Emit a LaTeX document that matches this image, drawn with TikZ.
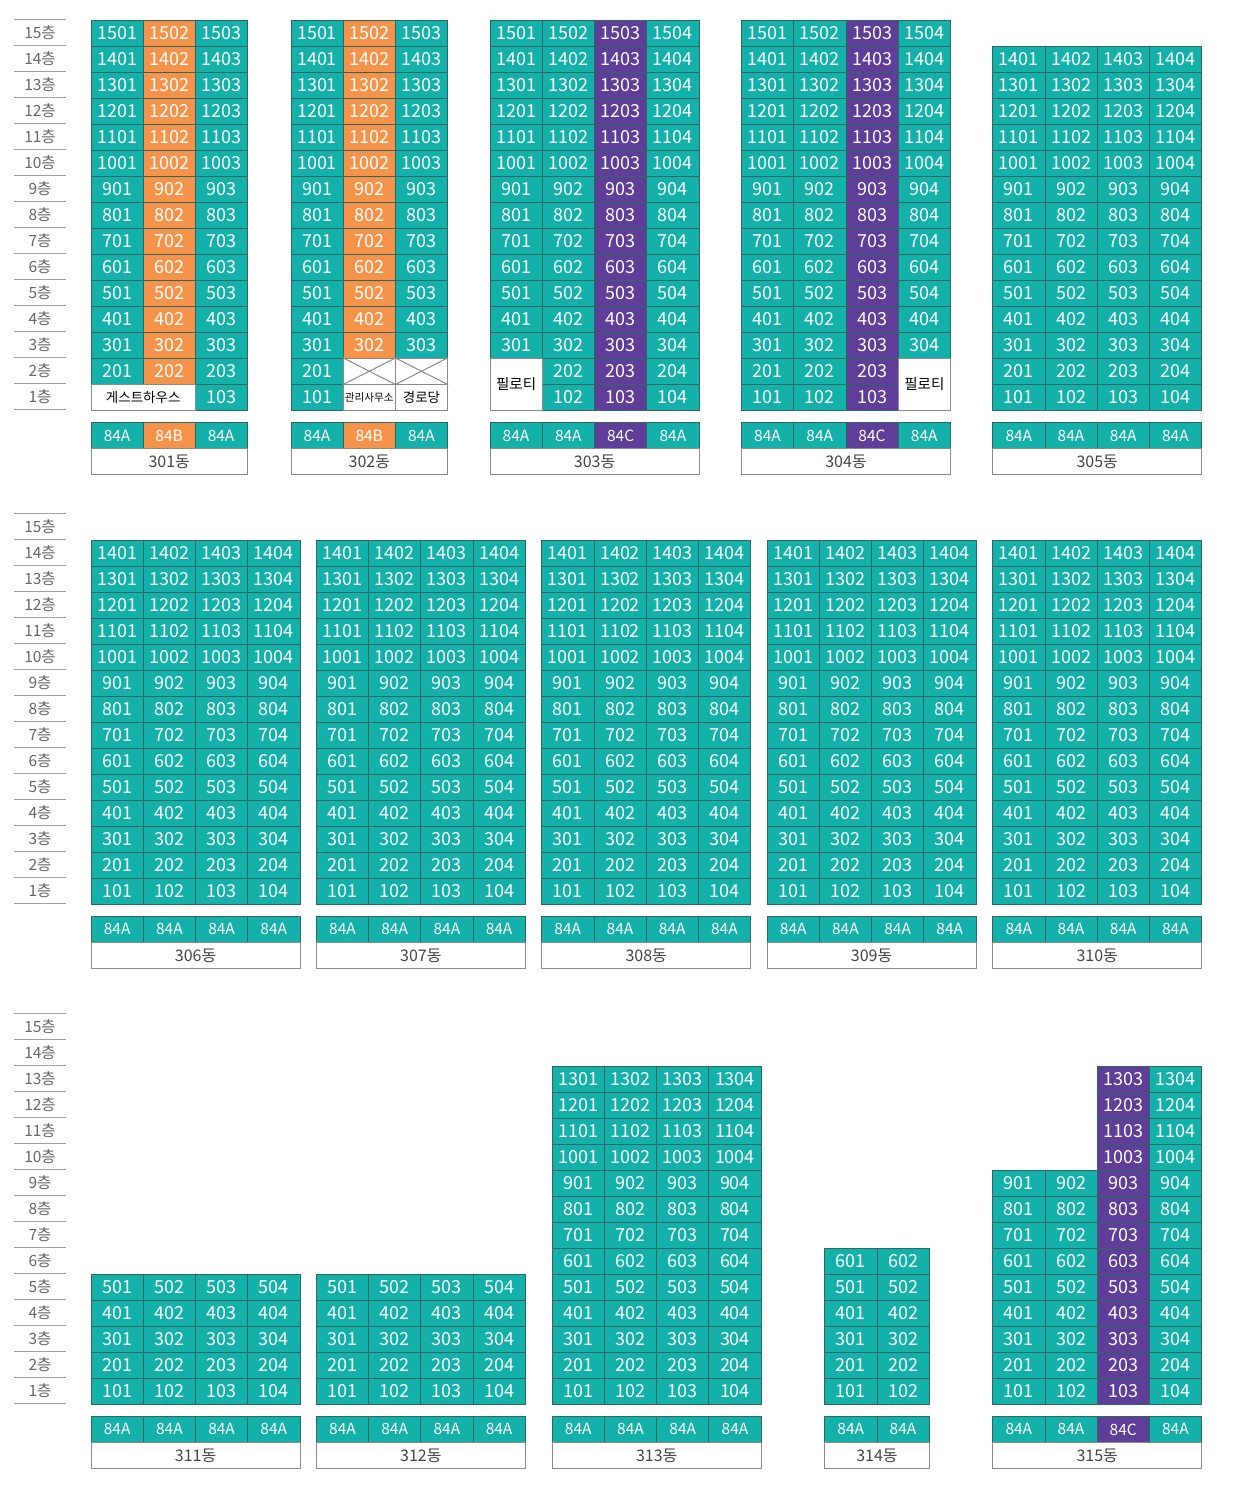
\documentclass[tikz,border=0pt]{standalone}
\usepackage{fontspec}
\setmainfont{Noto Sans CJK KR}
\definecolor{tealc}{HTML}{14B0AA}
\definecolor{orangec}{HTML}{F6934A}
\definecolor{purplec}{HTML}{5E3E98}
\definecolor{cellline}{HTML}{2E6664}
\definecolor{grayline}{HTML}{8A8A8A}
\definecolor{floortext}{HTML}{666666}
\definecolor{nametext}{HTML}{444444}
\tikzset{
  unit/.style={draw=cellline, line width=0.8pt, inner sep=0pt, minimum height=26pt,
    anchor=north west, text=white, font=\fontsize{18}{18}\selectfont},
  typecell/.style={draw=cellline, line width=0.8pt, inner sep=0pt, minimum height=26pt,
    anchor=north west, text=white, font=\fontsize{15.5}{15.5}\selectfont},
  namecell/.style={draw=grayline, line width=1pt, fill=white, inner sep=0pt, minimum height=26pt,
    anchor=north west, text=nametext, font=\fontsize{16}{16}\selectfont},
  whitecell/.style={draw=grayline, line width=1pt, fill=white, inner sep=0pt,
    anchor=north west, text=black},
  floorlabel/.style={text=floortext, font=\fontsize{15.5}{15.5}\selectfont, inner sep=0pt},
  floorline/.style={draw=grayline!80, line width=1pt}
}
% #1 id, #2 x0, #3 ybot, #4 cw, #5 col, #6 from, #7 to, #8 colour
\newcommand\ucol[8]{%
  \foreach \f in {#6,...,#7}{%
    \pgfmathtruncatemacro\nn{\f*100+#5}%
    \node[unit, fill=#8, minimum width=#4pt] (u#1-\nn) at ({#2+#4*(#5-1)}, {#3-26*\f}) {\nn};
  }}
% #1 id, #2 x0, #3 ybot, #4 cw, #5 ncols, #6 list colour/text
\newcommand\trow[6]{%
  \foreach \clr/\txt [count=\i] in {#6}{%
    \node[typecell, fill=\clr, minimum width=#4pt] (t#1-\i) at ({#2+#4*(\i-1)}, {#3+12.5}) {\txt};
  }
  \pgfmathsetmacro\ww{#4*#5}%
  \node[namecell, minimum width=\ww pt] (n#1) at (#2, {#3+38.5}) {#1{}동};
}
% floor labels: #1 section id, #2 ybot
\newcommand\floors[2]{%
  \foreach \f in {1,...,15}{%
    \node[floorlabel] (fl#1-\f) at (40, {#2-26*\f+13}) {\f{}층};
  }
  \foreach \f in {0,...,15}{%
    \coordinate (fa#1-\f) at (14, {#2-26*\f});
    \coordinate (fb#1-\f) at (66, {#2-26*\f});
    \draw[floorline] (fa#1-\f) -- (fb#1-\f);
  }}
\begin{document}
\begin{tikzpicture}[x=1pt, y=-1pt]
\useasboundingbox (0,0) rectangle (1235,1498);
\fill[white] (0,0) rectangle (1235,1498);

% ---------------- Section 1 ----------------
\def\yA{409.7}
\floors{A}{\yA}
% 301
\ucol{301}{90.7}{\yA}{52}{1}{2}{15}{tealc}
\ucol{301}{90.7}{\yA}{52}{2}{2}{15}{orangec}
\ucol{301}{90.7}{\yA}{52}{3}{1}{15}{tealc}
\node[whitecell, minimum width=104pt, minimum height=26pt, font=\fontsize{13.5}{13.5}\selectfont] (g301) at (90.7, {\yA-26}) {게스트하우스};
\trow{301}{90.7}{\yA}{52}{3}{tealc/84A, orangec/84B, tealc/84A}
% 302
\ucol{302}{290.5}{\yA}{52.2}{1}{1}{15}{tealc}
\ucol{302}{290.5}{\yA}{52.2}{2}{3}{15}{orangec}
\ucol{302}{290.5}{\yA}{52.2}{3}{3}{15}{tealc}
\node[whitecell, minimum width=52.2pt, minimum height=26pt] (x302a) at (342.7, {\yA-52}) {};
\node[whitecell, minimum width=52.2pt, minimum height=26pt] (x302b) at (394.9, {\yA-52}) {};
\draw[grayline, line width=1pt] (x302a.north west) -- (x302a.south east) (x302a.south west) -- (x302a.north east);
\draw[grayline, line width=1pt] (x302b.north west) -- (x302b.south east) (x302b.south west) -- (x302b.north east);
\node[whitecell, minimum width=52.2pt, minimum height=26pt, font=\fontsize{10.6}{10.6}\selectfont] (m302) at (342.7, {\yA-26}) {관리사무소};
\node[whitecell, minimum width=52.2pt, minimum height=26pt, font=\fontsize{13.5}{13.5}\selectfont] (k302) at (394.9, {\yA-26}) {경로당};
\trow{302}{290.5}{\yA}{52.2}{3}{tealc/84A, orangec/84B, tealc/84A}
% 303
\ucol{303}{489.5}{\yA}{52.3}{1}{3}{15}{tealc}
\ucol{303}{489.5}{\yA}{52.3}{2}{1}{15}{tealc}
\ucol{303}{489.5}{\yA}{52.3}{3}{1}{15}{purplec}
\ucol{303}{489.5}{\yA}{52.3}{4}{1}{15}{tealc}
\node[whitecell, minimum width=52.3pt, minimum height=52pt, font=\fontsize{14.5}{14.5}\selectfont] (p303) at (489.5, {\yA-52}) {필로티};
\trow{303}{489.5}{\yA}{52.3}{4}{tealc/84A, tealc/84A, purplec/84C, tealc/84A}
% 304
\ucol{304}{741}{\yA}{52.25}{1}{1}{15}{tealc}
\ucol{304}{741}{\yA}{52.25}{2}{1}{15}{tealc}
\ucol{304}{741}{\yA}{52.25}{3}{1}{15}{purplec}
\ucol{304}{741}{\yA}{52.25}{4}{3}{15}{tealc}
\node[whitecell, minimum width=52.25pt, minimum height=52pt, font=\fontsize{14.5}{14.5}\selectfont] (p304) at (897.75, {\yA-52}) {필로티};
\trow{304}{741}{\yA}{52.25}{4}{tealc/84A, tealc/84A, purplec/84C, tealc/84A}
% 305
\foreach \c in {1,...,4}{\ucol{305}{992.3}{\yA}{52.2}{\c}{1}{14}{tealc}}
\trow{305}{992.3}{\yA}{52.2}{4}{tealc/84A, tealc/84A, tealc/84A, tealc/84A}

% ---------------- Section 2 ----------------
\def\yB{903.5}
\floors{B}{\yB}
\foreach \id/\xx in {306/90.7, 307/316, 308/541.3, 309/766.7, 310/992.3}{
  \foreach \c in {1,...,4}{\ucol{\id}{\xx}{\yB}{52.2}{\c}{1}{14}{tealc}}
  \trow{\id}{\xx}{\yB}{52.2}{4}{tealc/84A, tealc/84A, tealc/84A, tealc/84A}
}

% ---------------- Section 3 ----------------
\def\yC{1403.5}
\floors{C}{\yC}
\foreach \id/\xx in {311/90.7, 312/316}{
  \foreach \c in {1,...,4}{\ucol{\id}{\xx}{\yC}{52.2}{\c}{1}{5}{tealc}}
  \trow{\id}{\xx}{\yC}{52.2}{4}{tealc/84A, tealc/84A, tealc/84A, tealc/84A}
}
\foreach \c in {1,...,4}{\ucol{313}{551.7}{\yC}{52.25}{\c}{1}{13}{tealc}}
\trow{313}{551.7}{\yC}{52.25}{4}{tealc/84A, tealc/84A, tealc/84A, tealc/84A}
\foreach \c in {1,2}{\ucol{314}{824.3}{\yC}{52.2}{\c}{1}{6}{tealc}}
\trow{314}{824.3}{\yC}{52.2}{2}{tealc/84A, tealc/84A}
\ucol{315}{992.3}{\yC}{52.2}{1}{1}{9}{tealc}
\ucol{315}{992.3}{\yC}{52.2}{2}{1}{9}{tealc}
\ucol{315}{992.3}{\yC}{52.2}{3}{1}{13}{purplec}
\ucol{315}{992.3}{\yC}{52.2}{4}{1}{13}{tealc}
\trow{315}{992.3}{\yC}{52.2}{4}{tealc/84A, tealc/84A, purplec/84C, tealc/84A}
\end{tikzpicture}
\end{document}
